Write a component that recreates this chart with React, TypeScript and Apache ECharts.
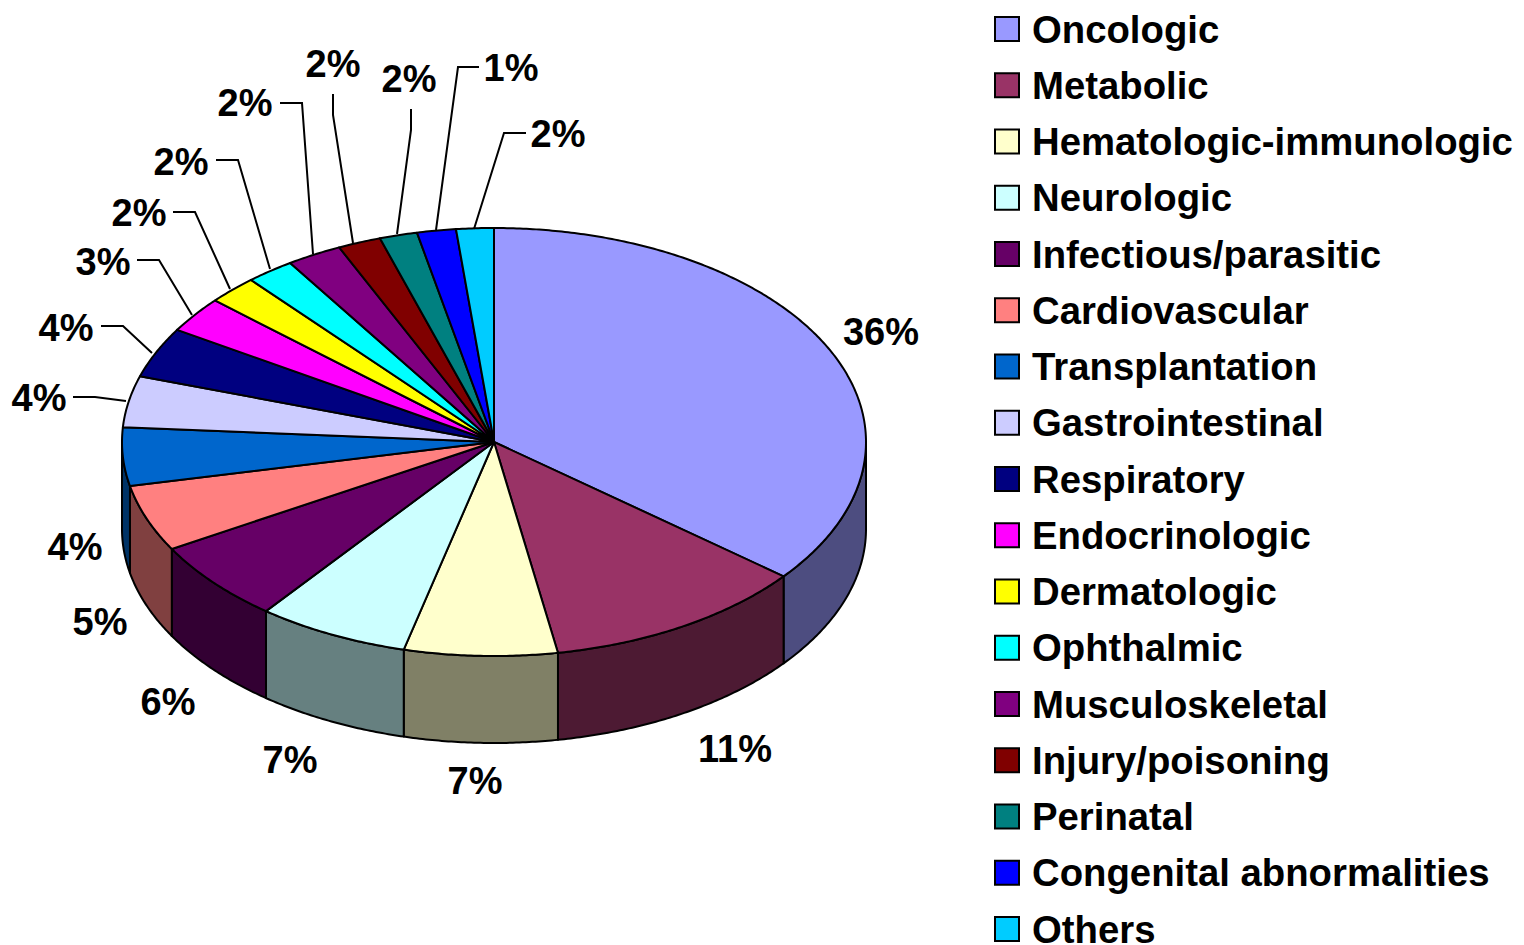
import React, { useEffect, useRef } from "react";
import * as echarts from "echarts";

const categories = [
  "Oncologic", "Metabolic", "Hematologic-immunologic", "Neurologic", "Infectious/parasitic",
  "Cardiovascular", "Transplantation", "Gastrointestinal", "Respiratory", "Endocrinologic",
  "Dermatologic", "Ophthalmic", "Musculoskeletal", "Injury/poisoning", "Perinatal",
  "Congenital abnormalities", "Others",
];
// Slice sizes
const shares = [35.8, 11.45, 6.65, 6.6, 6.17, 5.03, 4.4, 3.87, 3.81, 2.72, 2.17, 2.1, 2.4, 1.87, 1.64, 1.69, 1.63];
// Percent labels as printed in the picture
const percentLabels = ["36%", "11%", "7%", "7%", "6%", "5%", "4%", "4%", "4%", "3%", "2%", "2%", "2%", "2%", "2%", "1%", "2%"];
const colors = [
  "#9999FF", "#993366", "#FFFFCC", "#CCFFFF", "#660066", "#FF8080", "#0066CC", "#CCCCFF", "#000080",
  "#FF00FF", "#FFFF00", "#00FFFF", "#800080", "#800000", "#008080", "#0000FF", "#00CCFF",
];

// Layout
const PIE = { cx: 494, cy: 442, rx: 372, ry: 214, depth: 87 };
const labelCenters: number[][] = [
  [881, 332], [735, 749], [475, 781], [290, 760], [168, 702], [100, 622], [75, 547], [39, 398], [66, 328],
  [103, 262], [139, 213], [181, 162], [245, 103], [333, 64], [409, 79], [511, 68], [558, 134],
];
const leaderLines: (number[][] | null)[] = [
  null, null, null, null, null, null, null,
  [[73, 397], [95, 397], [126, 401]],
  [[101, 326], [123, 326], [152, 353]],
  [[137, 260], [159, 260], [192, 315]],
  [[173, 212], [195, 212], [230, 289]],
  [[216, 160], [238, 160], [270, 269]],
  [[280, 103], [302, 103], [313, 254]],
  [[333, 94], [333, 115], [353, 243]],
  [[411, 109], [411, 130], [397, 234]],
  [[479, 67], [458, 67], [436, 230]],
  [[526, 133], [504, 133], [474, 229]],
];

const FONT = '"Liberation Sans", Arial, sans-serif';
const total = shares.reduce((a, b) => a + b, 0);

function rim(deg: number, drop = 0): number[] {
  const t = (deg * Math.PI) / 180;
  return [PIE.cx + PIE.rx * Math.sin(t), PIE.cy - PIE.ry * Math.cos(t) + drop];
}
function arcPoints(a0: number, a1: number, drop = 0): number[][] {
  const n = Math.max(2, Math.ceil((a1 - a0) / 0.5));
  const pts: number[][] = [];
  for (let i = 0; i <= n; i++) pts.push(rim(a0 + ((a1 - a0) * i) / n, drop));
  return pts;
}
function halve(hex: string): string {
  const v = parseInt(hex.slice(1), 16);
  const c = [(v >> 16) & 255, (v >> 8) & 255, v & 255].map((x) => Math.round(x / 2));
  return `rgb(${c[0]},${c[1]},${c[2]})`;
}

function sliceRenderer(index: number) {
  return (_params: any, api: any) => {
    const before = shares.slice(0, index).reduce((a, b) => a + b, 0);
    const value = api.value(0);
    const a0 = (before / total) * 360;
    const a1 = ((before + value) / total) * 360;
    const line = { stroke: "#000", lineWidth: 2, lineJoin: "round" };
    const children: any[] = [];
    const s0 = Math.max(a0, 90);
    const s1 = Math.min(a1, 270);
    if (s1 > s0) {
      children.push({
        type: "polygon",
        shape: { points: [...arcPoints(s0, s1), ...arcPoints(s0, s1, PIE.depth).reverse()] },
        style: { fill: halve(colors[index]), ...line },
      });
    }
    children.push({
      type: "polygon",
      shape: { points: [[PIE.cx, PIE.cy], ...arcPoints(a0, a1)] },
      style: { fill: colors[index], ...line },
    });
    const leader = leaderLines[index];
    if (leader) {
      children.push({
        type: "polyline",
        shape: { points: leader },
        style: { fill: "none", stroke: "#000", lineWidth: 2 },
      });
    }
    const [lx, ly] = labelCenters[index];
    children.push({
      type: "text",
      style: {
        text: percentLabels[index], x: lx, y: ly, align: "center", verticalAlign: "middle",
        fill: "#000", fontFamily: FONT, fontWeight: "bold", fontSize: 38,
      },
    });
    return { type: "group", children };
  };
}

export default function App() {
  const ref = useRef<HTMLDivElement>(null);
  useEffect(() => {
    const chart = echarts.init(ref.current!, undefined, { renderer: "svg" });
    chart.setOption({
      animation: false,
      backgroundColor: "#fff",
      legend: {
        orient: "vertical",
        left: 994,
        top: 10,
        height: 980,
        padding: 0,
        itemWidth: 24,
        itemHeight: 24,
        itemGap: 18.25,
        icon: "rect",
        selectedMode: false,
        data: categories,
        itemStyle: { borderColor: "#000", borderWidth: 2 },
        textStyle: { color: "#000", fontFamily: FONT, fontWeight: "bold", fontSize: 38.3, padding: [0, 0, 0, 8] },
      },
      series: categories.map((name, i) => ({
        type: "custom",
        name,
        coordinateSystem: "none",
        silent: true,
        clip: false,
        itemStyle: { color: colors[i] },
        renderItem: sliceRenderer(i),
        data: [[shares[i]]],
      })),
    });
    return () => chart.dispose();
  }, []);
  return <div ref={ref} style={{ position: "fixed", left: 0, top: 0, width: 1524, height: 945 }} />;
}
